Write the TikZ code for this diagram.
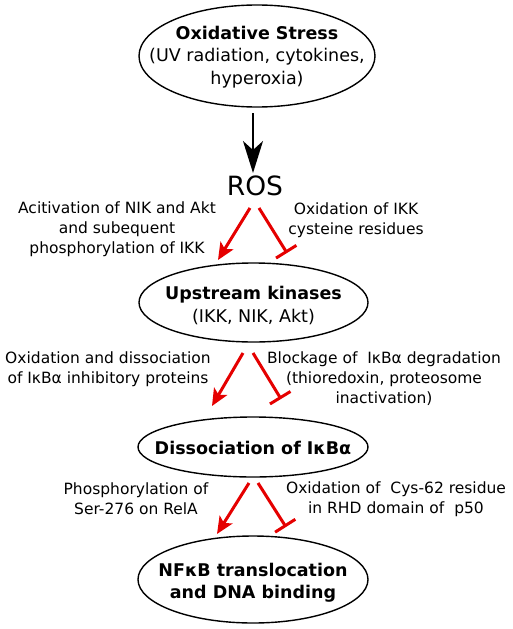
\documentclass[tikz,border=0pt]{standalone}
\usepackage{fontspec}
\setmainfont{DejaVu Sans}
\usetikzlibrary{shapes.geometric,arrows.meta}
\tikzset{
  ell/.style={draw=black, line width=1.4pt, ellipse, inner sep=0pt},
  etxt/.style={align=center, inner sep=0pt, font=\fontsize{17.5}{22.5}\selectfont},
  lbl/.style={align=center, inner sep=0pt, font=\fontsize{15.5}{20}\selectfont},
  act/.style={draw=red!90!black, line width=3pt, -{Stealth[length=17pt,width=15pt,inset=4pt]}},
  inh/.style={draw=red!90!black, line width=3pt, -{Bar[width=24pt,line width=3pt]}},
  blk/.style={draw=black, line width=2pt, -{Stealth[length=32pt,width=20pt,inset=9pt]}}
}
\begin{document}
\begin{tikzpicture}[x=1pt,y=-1pt]
\useasboundingbox (0,0) rectangle (512,629);
% ellipses
\node[ell, minimum width=236pt, minimum height=102pt] (os) at (257,56) {};
\node[ell, minimum width=229pt, minimum height=79pt] (uk) at (253.5,302.5) {};
\node[ell, minimum width=230pt, minimum height=60pt] (dis) at (253,447) {};
\node[ell, minimum width=230pt, minimum height=87pt] (nf) at (253,579.5) {};
% ellipse texts
\node[etxt] (ost) at (257,57) {\textbf{Oxidative Stress}\\(UV radiation, cytokines,\\hyperoxia)};
\node[inner sep=0pt, font=\fontsize{26.5}{30}\selectfont] (ros) at (255,186) {ROS};
\node[etxt] (ukt) at (253.5,305.5) {\textbf{Upstream kinases}\\(IKK, NIK, Akt)};
\node[etxt] (dist) at (253,448) {\textbf{Dissociation of IκBα}};
\node[etxt] (nft) at (253,582.5) {\textbf{NFκB translocation}\\\textbf{and DNA binding}};
% labels
\node[lbl] (l1) at (117,229) {Acitivation of NIK and Akt\\and subequent\\phosphorylation of IKK};
\node[lbl] (r1) at (356,220) {Oxidation of IKK\\cysteine residues};
\node[lbl] (l2) at (108,369) {Oxidation and dissociation\\of IκBα inhibitory proteins};
\node[lbl] (r2) at (384,379) {Blockage of\ \ IκBα degradation\\(thioredoxin, proteosome\\inactivation)};
\node[lbl] (l3) at (136,499) {Phosphorylation of\\Ser-276 on RelA};
\node[lbl] (r3) at (396,499) {Oxidation of\ \ Cys-62 residue\\in RHD domain of\ \ p50};
% connector end points
\coordinate (a0s) at (253,113);
\coordinate (a0e) at (253,173);
\coordinate (a1s) at (250,208);
\coordinate (a1e) at (218,260);
\coordinate (b1s) at (259,208);
\coordinate (b1e) at (287,253);
\coordinate (a2s) at (243,353);
\coordinate (a2e) at (212,406);
\coordinate (b2s) at (253,353);
\coordinate (b2e) at (281,399);
\coordinate (a3s) at (249,483);
\coordinate (a3e) at (217,534);
\coordinate (b3s) at (258,483);
\coordinate (b3e) at (286,527);
% connectors
\draw[blk] (a0s) -- (a0e);
\draw[act] (a1s) -- (a1e);
\draw[inh] (b1s) -- (b1e);
\draw[act] (a2s) -- (a2e);
\draw[inh] (b2s) -- (b2e);
\draw[act] (a3s) -- (a3e);
\draw[inh] (b3s) -- (b3e);
\end{tikzpicture}
\end{document}
